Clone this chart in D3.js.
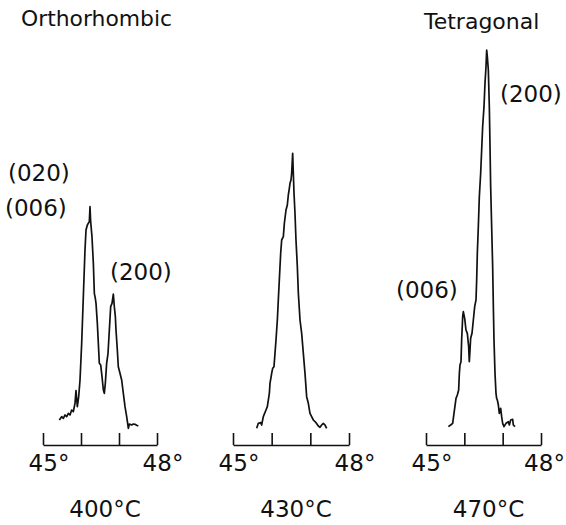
<!DOCTYPE html>
<html>
<head>
<meta charset="utf-8">
<script src="https://cdn.jsdelivr.net/npm/d3@7/dist/d3.min.js"></script>
<style>
  body { margin: 0; background: #fff; }
  svg text { font-family: "DejaVu Sans", sans-serif; fill: #111; }
  .axis path, .axis line { stroke: #111; stroke-width: 1.6; }
  .scan { fill: none; stroke: #111; stroke-width: 1.7; stroke-linejoin: round; }
</style>
</head>
<body>
<div id="chart"></div>
<script>
// 2theta (deg) vs intensity (arb. units)
const scan400 = [
  [45.430, 6.25], [45.491, 7.08], [45.535, 6.67], [45.579, 7.5], [45.623, 7.08],
  [45.667, 7.92], [45.711, 7.5], [45.754, 8.75], [45.798, 8.33], [45.842, 10.42],
  [45.868, 13.58], [45.904, 9.58], [45.939, 12.08], [45.974, 16.25], [46.018, 25.42],
  [46.105, 48.75], [46.132, 53.75], [46.167, 55.0], [46.219, 55.83], [46.237, 59.58],
  [46.254, 55.83], [46.289, 52.08], [46.325, 45.42], [46.351, 37.92], [46.377, 36.67],
  [46.395, 35.42], [46.430, 30.42], [46.465, 23.75], [46.482, 20.42], [46.518, 20.0],
  [46.553, 17.08], [46.588, 13.75], [46.614, 12.92], [46.640, 15.42], [46.675, 20.42],
  [46.711, 22.92], [46.746, 28.75], [46.781, 34.58], [46.816, 35.42], [46.851, 37.75],
  [46.877, 34.58], [46.904, 32.08], [46.921, 28.75], [46.956, 23.75], [46.982, 19.58],
  [47.026, 17.92], [47.070, 16.25], [47.114, 12.92], [47.158, 9.58], [47.202, 7.08],
  [47.246, 4.17], [47.272, 5.25], [47.333, 5.0], [47.377, 5.25], [47.421, 5.17],
  [47.465, 4.92], [47.509, 4.75]
];

const scan430 = [
  [45.612, 4.17], [45.655, 5.42], [45.716, 5.58], [45.741, 5.0], [45.784, 7.08],
  [45.853, 8.75], [45.888, 9.58], [45.940, 12.92], [45.957, 15.42], [46.000, 17.92],
  [46.026, 19.17], [46.060, 19.58], [46.086, 22.92], [46.112, 26.25], [46.147, 31.25],
  [46.172, 36.25], [46.198, 41.25], [46.233, 47.92], [46.259, 51.25], [46.302, 52.08],
  [46.328, 55.42], [46.371, 58.75], [46.405, 60.0], [46.431, 62.5], [46.457, 64.17],
  [46.474, 65.42], [46.500, 66.25], [46.517, 67.92], [46.543, 72.92], [46.560, 67.92],
  [46.578, 62.92], [46.603, 57.92], [46.629, 51.25], [46.664, 44.58], [46.690, 37.92],
  [46.733, 31.25], [46.776, 27.92], [46.819, 22.92], [46.862, 17.92], [46.905, 12.08],
  [46.948, 10.42], [46.991, 7.92], [47.034, 7.08], [47.078, 6.25], [47.147, 5.58],
  [47.207, 4.75], [47.250, 4.42], [47.293, 5.0], [47.336, 5.42], [47.379, 5.0],
  [47.422, 4.17]
];

const scan470 = [
  [45.583, 4.58], [45.643, 5.0], [45.696, 5.42], [45.730, 7.92], [45.783, 11.67],
  [45.817, 12.5], [45.852, 13.75], [45.870, 17.92], [45.887, 20.0], [45.913, 20.83],
  [45.930, 26.25], [45.957, 32.08], [45.974, 33.33], [46.009, 31.67], [46.043, 28.75],
  [46.078, 27.92], [46.113, 24.58], [46.130, 20.83], [46.148, 23.75], [46.165, 26.67],
  [46.200, 27.92], [46.235, 31.25], [46.270, 34.58], [46.304, 36.25], [46.322, 41.25],
  [46.339, 47.92], [46.365, 54.58], [46.391, 62.08], [46.426, 67.92], [46.452, 73.75],
  [46.478, 79.58], [46.513, 84.58], [46.539, 90.42], [46.565, 94.58], [46.583, 98.75],
  [46.600, 97.08], [46.626, 93.75], [46.652, 84.58], [46.670, 74.58], [46.687, 64.58],
  [46.713, 54.58], [46.739, 44.58], [46.757, 34.58], [46.774, 26.25], [46.800, 17.92],
  [46.826, 12.92], [46.843, 11.67], [46.861, 11.25], [46.887, 10.0], [46.913, 7.92],
  [46.948, 9.17], [46.974, 7.08], [47.000, 5.42], [47.035, 4.58], [47.087, 5.42],
  [47.148, 5.83], [47.174, 5.0], [47.209, 6.25], [47.261, 6.42], [47.278, 5.0],
  [47.322, 4.58]
];

const scans = [scan400, scan430, scan470];
const temps = ['400°C', '430°C', '470°C'];
const phases = ['Orthorhombic', '', 'Tetragonal'];
const tickValues = [45, 46, 47, 48];
const peakLabels = [['(020)', '(006)', '(200)'], [], ['(006)', '(200)']];

// layout
const width = 566, height = 525;
const baseY = 445, topY = 45;
const axisX = [[43, 157], [233, 349], [426, 541]];
const phaseX = [21, null, 424];
const phaseY = [26, null, 29];
const labelPos = [
  [[8, 181], [5, 216], [110, 280]],
  [],
  [[396, 298], [500, 102]]
];

const svg = d3.select('#chart')
  .append('svg')
  .attr('width', width)
  .attr('height', height);

const y = d3.scaleLinear()
  .domain([0, 100])
  .range([baseY, topY]);

scans.forEach((scan, i) => {
  const x = d3.scaleLinear()
    .domain([45, 48])
    .range(axisX[i]);

  const xAxis = d3.axisBottom(x)
    .tickValues(tickValues)
    .tickSizeInner(-12)
    .tickSizeOuter(0)
    .tickPadding(10)
    .tickFormat(d => (d === 45 || d === 48) ? d + '°' : '');

  const g = svg.append('g')
    .attr('class', 'axis')
    .attr('transform', `translate(0,${baseY})`)
    .call(xAxis);

  g.selectAll('text')
    .attr('font-size', 23)
    .attr('font-family', null)
    .attr('fill', null)
    .attr('dx', (d, k) => (i === 2 && k === 3) ? 3 : 5.5);

  const line = d3.line()
    .x(d => x(d[0]))
    .y(d => y(d[1]));

  svg.append('path')
    .datum(scan)
    .attr('class', 'scan')
    .attr('d', line);

  svg.append('text')
    .attr('x', (axisX[i][0] + axisX[i][1]) / 2)
    .attr('dx', 5)
    .attr('y', 517)
    .attr('text-anchor', 'middle')
    .attr('font-size', 23)
    .text(temps[i]);

  if (phases[i]) {
    const t = svg.append('text')
      .attr('x', phaseX[i])
      .attr('y', phaseY[i])
      .attr('font-size', 22)
      .text(phases[i]);
    if (i === 0) t.attr('textLength', 151).attr('lengthAdjust', 'spacingAndGlyphs');
  }

  peakLabels[i].forEach((lab, j) => {
    svg.append('text')
      .attr('x', labelPos[i][j][0])
      .attr('y', labelPos[i][j][1])
      .attr('font-size', 23)
      .text(lab);
  });
});
</script>
</body>
</html>
